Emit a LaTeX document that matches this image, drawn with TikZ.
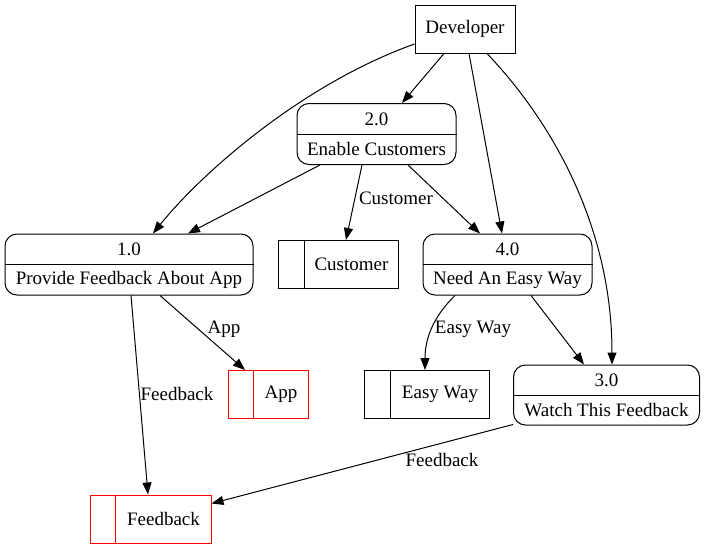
\documentclass[tikz,border=0pt]{standalone}
\usepackage{fontspec}
\setmainfont{Liberation Serif}
\newfontfamily\tmsfont{Liberation Serif}
\usetikzlibrary{arrows.meta,calc}
\begin{document}
\begin{tikzpicture}[x=1pt,y=-1pt,
  every node/.style={font=\tmsfont\fontsize{19}{22}\selectfont, inner sep=0pt},
  ent/.style={draw, line width=1pt, minimum width=#1, minimum height=48},
  proc/.style={draw, line width=1pt, rounded corners=12, minimum width=#1, minimum height=61},
  store/.style={draw, line width=1pt, minimum width=#1, minimum height=48},
  redstore/.style={store=#1, draw=red},
  flow/.style={line width=1pt, -{Triangle[length=12pt,width=9pt]}},
  lbl/.style={fill=none}
]
\useasboundingbox (0,0) rectangle (705,549);
\fill[white] (0,0) rectangle (705,549);

% external entity
\node[ent=100] (dev) at (465,29) {Developer};

% processes
\node[proc=159] (p2) at (376.5,134) {};
\draw[line width=1pt] (p2.west) -- (p2.east);
\node (p2a) at ($(p2.center)+(0,-15)$) {2.0};
\node (p2b) at ($(p2.center)+(0,15)$) {Enable Customers};

\node[proc=248] (p1) at (129,264.5) {};
\draw[line width=1pt] (p1.west) -- (p1.east);
\node (p1a) at ($(p1.center)+(0,-15)$) {1.0};
\node (p1b) at ($(p1.center)+(0,15)$) {Provide Feedback About App};

\node[proc=169] (p4) at (507.5,264.5) {};
\draw[line width=1pt] (p4.west) -- (p4.east);
\node (p4a) at ($(p4.center)+(0,-15)$) {4.0};
\node (p4b) at ($(p4.center)+(0,15)$) {Need An Easy Way};

\node[proc=186, minimum height=60] (p3) at (606.5,395) {};
\draw[line width=1pt] (p3.west) -- (p3.east);
\node (p3a) at ($(p3.center)+(0,-15)$) {3.0};
\node (p3b) at ($(p3.center)+(0,15)$) {Watch This Feedback};

% data stores
\node[store=120] (sc) at (338,264.5) {};
\draw[line width=1pt] ($(sc.north west)+(27,0)$) -- ($(sc.south west)+(27,0)$);
\node (sct) at (351.5,264.5) {Customer};

\node[redstore=80] (sa) at (268,394.5) {};
\draw[line width=1pt, red] ($(sa.north west)+(26,0)$) -- ($(sa.south west)+(26,0)$);
\node (sat) at (281,394.5) {App};

\node[store=125] (se) at (426.5,394.5) {};
\draw[line width=1pt] ($(se.north west)+(27,0)$) -- ($(se.south west)+(27,0)$);
\node (set) at (440,394.5) {Easy Way};

\node[redstore=121] (sf) at (150.5,519) {};
\draw[line width=1pt, red] ($(sf.north west)+(26,0)$) -- ($(sf.south west)+(26,0)$);
\node (sft) at (163.5,519) {Feedback};

% flows
\draw[flow] ($(dev.south)+(-21,0)$) -- ($(p2.north)+(25.5,0)$);
\draw[flow] ($(dev.west)+(0,15)$) .. controls (300,85) and (200,175) .. ($(p1.north)+(24,0)$);
\draw[flow] ($(dev.south)+(4,0)$) -- ($(p4.north)+(-5.5,0)$);
\draw[flow] ($(dev.south)+(22,0)$) .. controls (555,125) and (612,230) .. ($(p3.north)+(5.5,0)$);

\draw[flow] ($(p2.south)+(-56.5,0)$) -- ($(p1.north)+(59,0)$);
\draw[flow] ($(p2.south)+(-14.5,0)$) -- ($(sc.north)+(8,0)$);
\node[lbl] (lc) at (396,198) {Customer};
\draw[flow] ($(p2.south)+(31.5,0)$) -- ($(p4.north)+(-27.5,0)$);

\draw[flow] ($(p1.south)+(31,0)$) -- ($(sa.north)+(-23,0)$);
\node[lbl] (la) at (224,329) {App};
\draw[flow] ($(p1.south)+(2,0)$) -- ($(sf.north)+(-2.5,0)$);
\node[lbl] (lf1) at (177,394) {Feedback};

\draw[flow] ($(p4.south)+(-52.5,0)$) .. controls (432,318) and (425,340) .. ($(se.north)+(-1.5,0)$);
\node[lbl] (le) at (473,329) {Easy Way};
\draw[flow] ($(p4.south)+(23.5,0)$) -- ($(p3.north)+(-22.5,0)$);

\draw[flow] ($(p3.south west)+(0,-1)$) -- ($(sf.north east)+(0,9)$);
\node[lbl] (lf2) at (442,460) {Feedback};
\end{tikzpicture}
\end{document}
